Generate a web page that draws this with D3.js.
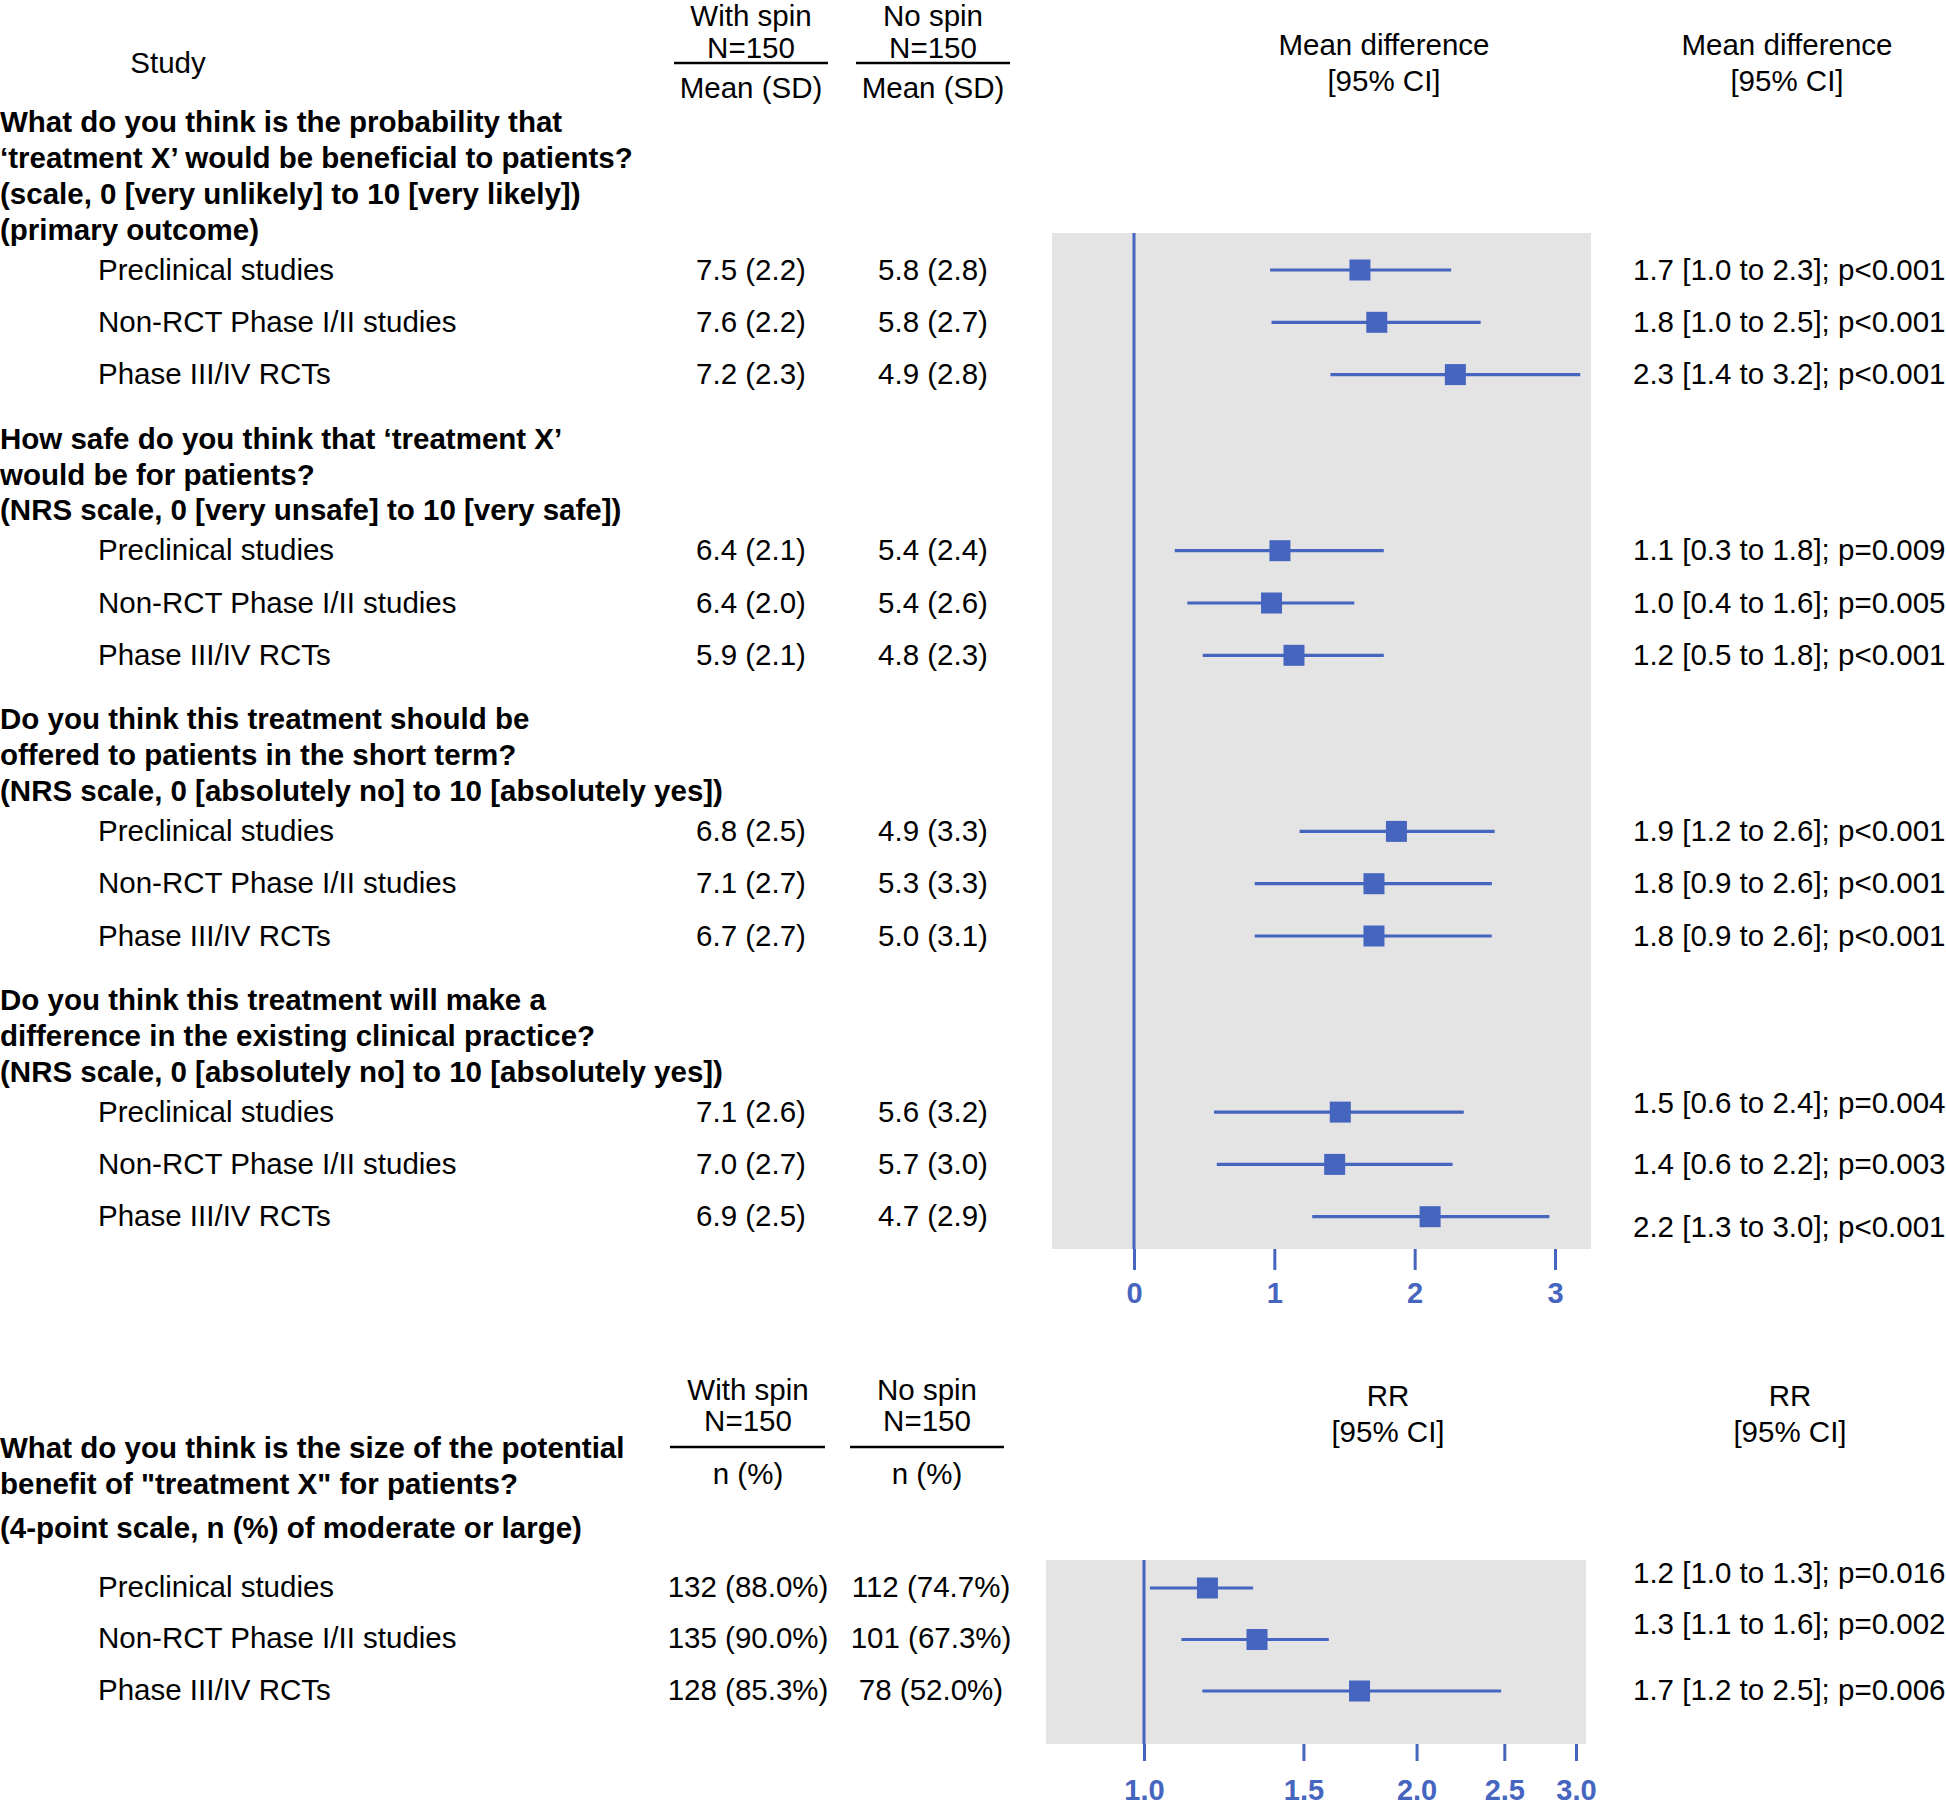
<!DOCTYPE html>
<html><head><meta charset="utf-8">
<script src="https://cdn.jsdelivr.net/npm/d3@7"></script>
<style>
html,body{margin:0;padding:0;background:#fff;}
svg{display:block;font-family:"Liberation Sans",Arial,Helvetica,sans-serif;}
</style></head><body>
<svg id="chart" width="1946" height="1808"></svg>
<script>
// ---------------- DATA ----------------
const studies = ["Preclinical studies", "Non-RCT Phase I/II studies", "Phase III/IV RCTs"];
const questions = [
  ["What do you think is the probability that", "‘treatment X’ would be beneficial to patients?", "(scale, 0 [very unlikely] to 10 [very likely])", "(primary outcome)"],
  ["How safe do you think that ‘treatment X’", "would be for patients?", "(NRS scale, 0 [very unsafe] to 10 [very safe])"],
  ["Do you think this treatment should be", "offered to patients in the short term?", "(NRS scale, 0 [absolutely no] to 10 [absolutely yes])"],
  ["Do you think this treatment will make a", "difference in the existing clinical practice?", "(NRS scale, 0 [absolutely no] to 10 [absolutely yes])"]
];
// per question, per study
const withSpinMean = [[7.5, 7.6, 7.2], [6.4, 6.4, 5.9], [6.8, 7.1, 6.7], [7.1, 7.0, 6.9]];
const withSpinSD   = [[2.2, 2.2, 2.3], [2.1, 2.0, 2.1], [2.5, 2.7, 2.7], [2.6, 2.7, 2.5]];
const noSpinMean   = [[5.8, 5.8, 4.9], [5.4, 5.4, 4.8], [4.9, 5.3, 5.0], [5.6, 5.7, 4.7]];
const noSpinSD     = [[2.8, 2.7, 2.8], [2.4, 2.6, 2.3], [3.3, 3.3, 3.1], [3.2, 3.0, 2.9]];
// plotted mean differences (as drawn)
const mdEst = [[1.61, 1.73, 2.29], [1.04, 0.98, 1.14], [1.87, 1.71, 1.71], [1.47, 1.43, 2.11]];
const mdLow = [[0.97, 0.98, 1.40], [0.29, 0.38, 0.49], [1.18, 0.86, 0.86], [0.57, 0.59, 1.27]];
const mdHigh = [[2.26, 2.47, 3.18], [1.78, 1.57, 1.78], [2.57, 2.55, 2.55], [2.35, 2.27, 2.96]];
const mdLabels = [
  ["1.7 [1.0 to 2.3]; p<0.001", "1.8 [1.0 to 2.5]; p<0.001", "2.3 [1.4 to 3.2]; p<0.001"],
  ["1.1 [0.3 to 1.8]; p=0.009", "1.0 [0.4 to 1.6]; p=0.005", "1.2 [0.5 to 1.8]; p<0.001"],
  ["1.9 [1.2 to 2.6]; p<0.001", "1.8 [0.9 to 2.6]; p<0.001", "1.8 [0.9 to 2.6]; p<0.001"],
  ["1.5 [0.6 to 2.4]; p=0.004", "1.4 [0.6 to 2.2]; p=0.003", "2.2 [1.3 to 3.0]; p<0.001"]
];
const mdTicks = [0, 1, 2, 3];

const rrQuestion = ["What do you think is the size of the potential", "benefit of \"treatment X\" for patients?"];
const rrNote = "(4-point scale, n (%) of moderate or large)";
const rrWithN = [132, 135, 128];
const rrWithPct = [88.0, 90.0, 85.3];
const rrNoN = [112, 101, 78];
const rrNoPct = [74.7, 67.3, 52.0];
const rrEst = [1.175, 1.333, 1.73];
const rrLow = [1.015, 1.10, 1.16];
const rrHigh = [1.32, 1.60, 2.48];
const rrLabels = ["1.2 [1.0 to 1.3]; p=0.016", "1.3 [1.1 to 1.6]; p=0.002", "1.7 [1.2 to 2.5]; p=0.006"];
const rrTicks = [1.0, 1.5, 2.0, 2.5, 3.0];

// ---------------- STYLE / LAYOUT ----------------
const FS = 29.5;
const BLUE = "#4565bf";
const GRAY = "#e5e4e5";
const svg = d3.select("#chart");

function txt(s, x, y, opts = {}) {
  return svg.append("text")
    .attr("x", x).attr("y", y).attr("dy", "0.36em")
    .attr("text-anchor", opts.anchor || "start")
    .attr("font-size", opts.size || FS)
    .attr("font-weight", opts.bold ? "bold" : "normal")
    .attr("fill", opts.fill || "#000")
    .text(s);
}
function hline(x1, x2, y) {
  svg.append("line").attr("x1", x1).attr("x2", x2).attr("y1", y).attr("y2", y)
    .attr("stroke", "#000").attr("stroke-width", 2.5);
}

const colWith = 751, colNo = 933, colLabel = 1633, indent = 98;

// ---- top header ----
txt("Study", 168, 62, {anchor: "middle"});
txt("With spin", colWith, 15, {anchor: "middle"});
txt("N=150", colWith, 47, {anchor: "middle"});
hline(674, 828, 63);
txt("Mean (SD)", colWith, 87, {anchor: "middle"});
txt("No spin", colNo, 15, {anchor: "middle"});
txt("N=150", colNo, 47, {anchor: "middle"});
hline(856, 1010, 63);
txt("Mean (SD)", colNo, 87, {anchor: "middle"});
txt("Mean difference", 1384, 44, {anchor: "middle"});
txt("[95% CI]", 1384, 80, {anchor: "middle"});
txt("Mean difference", 1787, 44, {anchor: "middle"});
txt("[95% CI]", 1787, 80, {anchor: "middle"});

// ---- top panel layout (row positions computed procedurally) ----
const headLine = 35.8, headToRow = 40, rowStep = 52.3, rowToHead = 64.5;
let yCur = 121.6;
const rowsTop = [];
questions.forEach((q, qi) => {
  q.forEach((line, li) => txt(line, 0, yCur + li * headLine, {bold: true}));
  let y = yCur + (q.length - 1) * headLine + headToRow;
  studies.forEach((s, si) => {
    rowsTop.push({qi, si, y: y + si * rowStep});
  });
  yCur = y + (studies.length - 1) * rowStep + rowToHead;
});
// small vertical nudges of the right-hand labels in the last block (as in the original layout)
const labelNudge = (qi, si) => (qi === 3 && si === 0 ? -9 : qi === 3 && si === 2 ? 11 : 0);

const panelTop = {x0: 1052, x1: 1591, y0: 233, y1: 1249};
const xMD = d3.scaleLinear().domain([0, 3]).range([1134, 1555]);

svg.append("rect").attr("x", panelTop.x0).attr("y", panelTop.y0)
  .attr("width", panelTop.x1 - panelTop.x0).attr("height", panelTop.y1 - panelTop.y0)
  .attr("fill", GRAY);
svg.append("line").attr("x1", xMD(0)).attr("x2", xMD(0)).attr("y1", panelTop.y0).attr("y2", panelTop.y1)
  .attr("stroke", BLUE).attr("stroke-width", 3);

const gTop = svg.append("g");
rowsTop.forEach(r => {
  const {qi, si, y} = r;
  txt(studies[si], indent, y);
  txt(withSpinMean[qi][si].toFixed(1) + " (" + withSpinSD[qi][si].toFixed(1) + ")", colWith, y, {anchor: "middle"});
  txt(noSpinMean[qi][si].toFixed(1) + " (" + noSpinSD[qi][si].toFixed(1) + ")", colNo, y, {anchor: "middle"});
  txt(mdLabels[qi][si], colLabel, y + labelNudge(qi, si));
  gTop.append("line").attr("x1", xMD(mdLow[qi][si])).attr("x2", xMD(mdHigh[qi][si]))
    .attr("y1", y + 1).attr("y2", y + 1).attr("stroke", BLUE).attr("stroke-width", 3.2);
  gTop.append("rect").attr("x", xMD(mdEst[qi][si]) - 10.5).attr("y", y + 1 - 10.5)
    .attr("width", 21).attr("height", 21).attr("fill", BLUE);
});

const axTop = svg.append("g").attr("transform", `translate(0,${panelTop.y1})`)
  .call(d3.axisBottom(xMD).tickValues(mdTicks).tickFormat(d3.format("d")).tickSize(21).tickPadding(12));
axTop.select(".domain").remove();
axTop.selectAll(".tick line").attr("stroke", BLUE).attr("stroke-width", 3);
axTop.selectAll(".tick text").attr("fill", BLUE).attr("font-size", 29).attr("font-weight", "bold")
  .attr("font-family", "'Liberation Sans', Arial, sans-serif");

// ---- bottom section ----
const bWith = 748, bNo = 929;
txt("With spin", bWith, 1389, {anchor: "middle"});
txt("N=150", bWith, 1420, {anchor: "middle"});
hline(670, 825, 1447);
txt("n (%)", bWith, 1473, {anchor: "middle"});
txt("No spin", bNo - 2, 1389, {anchor: "middle"});
txt("N=150", bNo - 2, 1420, {anchor: "middle"});
hline(850, 1004, 1447);
txt("n (%)", bNo - 2, 1473, {anchor: "middle"});
txt("RR", 1388, 1395, {anchor: "middle"});
txt("[95% CI]", 1388, 1431, {anchor: "middle"});
txt("RR", 1790, 1395, {anchor: "middle"});
txt("[95% CI]", 1790, 1431, {anchor: "middle"});

rrQuestion.forEach((line, li) => txt(line, 0, 1447 + li * 36, {bold: true}));
txt(rrNote, 0, 1527, {bold: true});

const panelBot = {x0: 1046, x1: 1586, y0: 1560, y1: 1744};
const xRR = d3.scaleLog().domain([1, 3]).range([1144, 1576]);
svg.append("rect").attr("x", panelBot.x0).attr("y", panelBot.y0)
  .attr("width", panelBot.x1 - panelBot.x0).attr("height", panelBot.y1 - panelBot.y0)
  .attr("fill", GRAY);
svg.append("line").attr("x1", xRR(1)).attr("x2", xRR(1)).attr("y1", panelBot.y0).attr("y2", panelBot.y1)
  .attr("stroke", BLUE).attr("stroke-width", 3);

const rrRowY0 = 1586, rrRowStep = 51.5;
studies.forEach((s, i) => {
  const y = rrRowY0 + i * rrRowStep;
  txt(s, indent, y);
  txt(rrWithN[i] + " (" + rrWithPct[i].toFixed(1) + "%)", bWith, y, {anchor: "middle"});
  txt(rrNoN[i] + " (" + rrNoPct[i].toFixed(1) + "%)", bNo + 2, y, {anchor: "middle"});
  txt(rrLabels[i], colLabel, y - (i < 2 ? 14 : 0));
  svg.append("line").attr("x1", xRR(rrLow[i])).attr("x2", xRR(rrHigh[i]))
    .attr("y1", y + 2).attr("y2", y + 2).attr("stroke", BLUE).attr("stroke-width", 3.2);
  svg.append("rect").attr("x", xRR(rrEst[i]) - 10.5).attr("y", y + 2 - 10.5)
    .attr("width", 21).attr("height", 21).attr("fill", BLUE);
});

const axBot = svg.append("g").attr("transform", `translate(0,${panelBot.y1})`)
  .call(d3.axisBottom(xRR).tickValues(rrTicks).tickFormat(d3.format(".1f")).tickSize(17).tickPadding(18));
axBot.select(".domain").remove();
axBot.selectAll(".tick line").attr("stroke", BLUE).attr("stroke-width", 3);
axBot.selectAll(".tick text").attr("fill", BLUE).attr("font-size", 29).attr("font-weight", "bold")
  .attr("font-family", "'Liberation Sans', Arial, sans-serif");
</script>
</body></html>
